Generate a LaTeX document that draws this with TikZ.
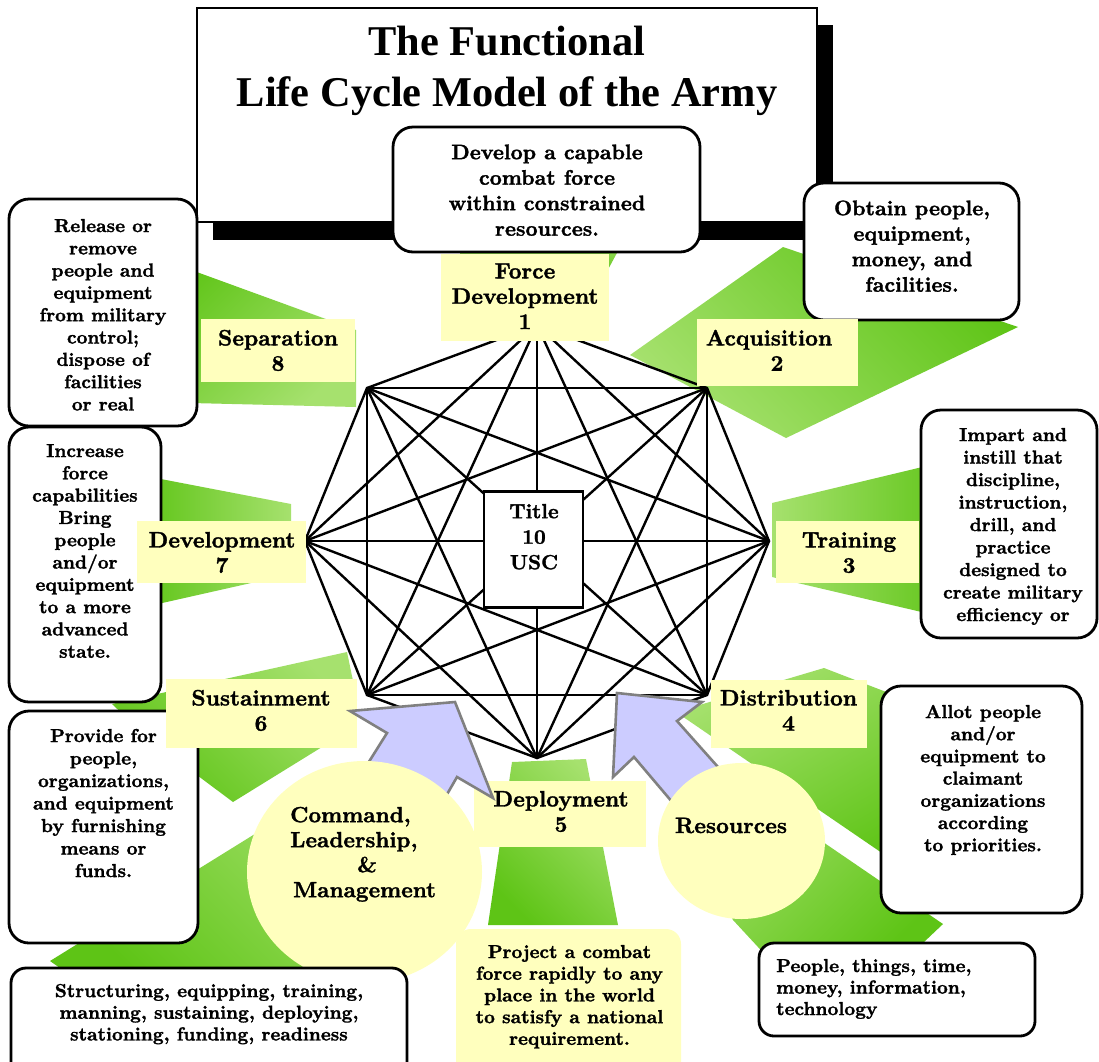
\documentclass[tikz,border=0pt]{standalone}
\usepackage{fontspec}
\newfontfamily\ttlfont{Liberation Serif}
\newfontfamily\cbf{lmroman10-bold.otf}[FakeBold=1.5]
\usetikzlibrary{shapes.geometric}
\definecolor{dkg}{RGB}{94,196,22}
\definecolor{ltg}{RGB}{166,225,110}
\definecolor{lbl}{RGB}{255,255,190}
\definecolor{arrf}{RGB}{204,204,255}
\definecolor{arrd}{RGB}{128,128,128}
\newcommand\tstr{\rule{0pt}{.8em}}
\begin{document}
\begin{tikzpicture}[x=1pt,y=-1pt,
  grn/.style={top color=ltg,bottom color=dkg,shading angle=#1},
  edge/.style={line width=2.4pt,line cap=round},
  callout/.style={draw=black,line width=2.8pt,fill=white,rounded corners=20pt},
  lab/.style={fill=lbl},
  labtxt/.style={font=\fontsize{22.3}{25.3}\selectfont\cbf,align=center,inner sep=0pt,anchor=north},
  ctxt/.style={font=\fontsize{18.8}{#1}\selectfont\cbf,align=center,inner sep=0pt,anchor=north},
  bigtxt/.style={font=\fontsize{21}{25.5}\selectfont\cbf,align=center,inner sep=0pt,anchor=north},
  arrowshape/.style={fill=arrf,draw=arrd,line width=2.6pt,line join=miter},
]
\useasboundingbox (0,0) rectangle (1099,1061);
\fill[white] (0,0) rectangle (1099,1061);

% green shapes
\shade[grn=0] (460,240) -- (624,240) -- (605,275) -- (460,275) -- cycle;
\shade[grn=135] (630,355) -- (783,247) -- (1018,327) -- (786,438) -- cycle;
\shade[grn=90] (772,503) -- (960,458) -- (960,621) -- (772,577) -- cycle;
\shade[grn=30] (676,712) -- (824,668) -- (920,705) -- (920,879) -- cycle;
\shade[grn=45] (700,758) -- (943,924) -- (905,960) -- (770,960) -- (733,920) -- (700,860) -- cycle;
\shade[grn=-45] (512,762) -- (586,759) -- (618,925) -- (488,925) -- cycle;
\shade[grn=-45] (112,704) -- (347,652) -- (357,700) -- (322,747) -- (233,802) -- (150,740) -- cycle;
\shade[grn=-45] (50,961) -- (300,806) -- (420,900) -- (300,968) -- (60,968) -- cycle;
\shade[grn=-90] (140,475) -- (291,504) -- (291,574) -- (140,608) -- cycle;
\shade[grn=-135] (150,255) -- (356,330) -- (356,407) -- (150,402) -- cycle;

% title box
\fill (213,25) rectangle (833,240);
\draw[line width=2pt,fill=white] (197,8) rectangle (817,222);
\node[font=\fontsize{42.4}{51}\selectfont\ttlfont\bfseries,align=center,inner sep=0pt,anchor=north] (title) at (507,21.1) {\tstr The Functional\\Life Cycle Model of the Army};

% octagon
\coordinate (v1) at (537,325);
\coordinate (v2) at (707,388);
\coordinate (v3) at (769,541);
\coordinate (v4) at (707,695);
\coordinate (v5) at (537,758);
\coordinate (v6) at (367,695);
\coordinate (v7) at (305,541);
\coordinate (v8) at (367,388);
\foreach \i in {1,...,7}{
  \pgfmathtruncatemacro\k{\i+1}
  \foreach \j in {\k,...,8}{\draw[edge] (v\i) -- (v\j);}
}

% centre box
\node[draw,line width=2.8pt,fill=white,minimum width=99pt,minimum height=116pt,inner sep=0pt] (usc) at (533.5,549.5) {};
\node[font=\fontsize{20.5}{25.5}\selectfont\cbf,align=center,inner sep=0pt,anchor=north] (usct) at (534,501.6) {\tstr Title\\10\\USC};

% callouts
\draw[callout] (393,127) rectangle (700,252);
\node[bigtxt] (c1) at (547,142.2) {\tstr Develop a capable\\combat force\\within constrained\\resources.};
\draw[callout] (804,183) rectangle (1019,320);
\node[bigtxt] (c2) at (912,198.2) {\tstr Obtain people,\\equipment,\\money, and\\facilities.};
\draw[callout] (9,199) rectangle (197,426);
\node[ctxt=22.3] (c3) at (103,216.8) {\tstr Release or\\remove\\people and\\equipment\\from military\\control;\\dispose of\\facilities\\or real};
\draw[callout] (9,427) rectangle (161,702);
\node[ctxt=22.3] (c4) at (85,441.8) {\tstr Increase\\force\\capabilities\\Bring\\people\\and/or\\equipment\\to a more\\advanced\\state.};
\draw[callout] (921,410) rectangle (1097,638);
\node[ctxt=22.5] (c5) at (1013,425.8) {\tstr Impart and\\instill that\\discipline,\\instruction,\\drill, and\\practice\\designed to\\create military\\efficiency or};
\draw[callout] (9,711) rectangle (198,943);
\node[ctxt=22.5] (c6) at (103.5,726.8) {\tstr Provide for\\people,\\organizations,\\and equipment\\by furnishing\\means or\\funds.};
\draw[callout] (881,686) rectangle (1082,913);
\node[ctxt=22.2] (c8) at (983,702.8) {\tstr Allot people\\and/or\\equipment to\\claimant\\organizations\\according\\to priorities.};
\draw[callout,rounded corners=15pt] (759,943) rectangle (1035,1036);
\node[ctxt=21.5,align=left,anchor=north west] (c9) at (776,956.8) {\tstr People, things, time,\\money, information,\\technology};

% labels
\fill[lab] (441,254) rectangle (609,341);
\node[labtxt] (l1) at (525,260.4) {\tstr Force\\Development\\1};
\fill[lab] (697,319) rectangle (858,386);
\node[labtxt] (l2) at (777,327.4) {\tstr\hbox{Acquisition\kern16pt}\\2};
\fill[lab] (776,521) rectangle (919,583);
\node[labtxt] (l3) at (849,529.4) {\tstr Training\\3};
\fill[lab] (711,680) rectangle (867,748);
\node[labtxt] (l4) at (788.5,687.4) {\tstr Distribution\\4};
\fill[lab] (474,781) rectangle (646,847);
\node[labtxt] (l5) at (561,788.4) {\tstr Deployment\\5};
\fill[lab] (166,679) rectangle (357,748);
\node[labtxt] (l6) at (261,687.4) {\tstr Sustainment\\6};
\fill[lab] (137,521) rectangle (306,583);
\node[labtxt] (l7) at (222,529.4) {\tstr Development\\7};
\fill[lab] (201,319) rectangle (355,382);
\node[labtxt] (l8) at (278,327.4) {\tstr Separation\\8};

% arrows
\filldraw[arrowshape] (350,711) -- (455,702) -- (493,798) -- (457,777) -- (427,829) -- (355,784) -- (387,733) -- cycle;
\filldraw[arrowshape] (617,693) -- (702,702) -- (677,721) -- (718,767) -- (673,803) -- (634,757) -- (613,777) -- cycle;

% circles
\node[ellipse,fill=lbl,minimum width=235pt,minimum height=222pt,inner sep=0pt] (cmd) at (364.5,872) {};
\node[font=\fontsize{22}{25}\selectfont\cbf,align=left,inner sep=0pt,anchor=north west] (cmdt) at (290,804.4) {\tstr Command,\\Leadership,\\\hspace*{67pt}\&\\\hspace*{3pt}Management};
\node[ellipse,fill=lbl,minimum width=167pt,minimum height=156pt,inner sep=0pt] (res) at (741.5,841) {};
\node[font=\fontsize{22.3}{25}\selectfont\cbf,inner sep=0pt,anchor=base] (rest) at (731,833) {Resources};

% bottom boxes
\draw[callout,rounded corners=15pt] (11,968) rectangle (407,1080);
\node[ctxt=21.7] (c7) at (209,981.8) {\tstr Structuring, equipping, training,\\manning, sustaining, deploying,\\stationing, funding, readiness};
\fill[lbl,rounded corners=15pt] (456,929) rectangle (681,1080);
\node[ctxt=21.7] (c10) at (569.5,942.8) {\tstr Project a combat\\force rapidly to any\\place in the world\\to satisfy a national\\requirement.};
\end{tikzpicture}
\end{document}
